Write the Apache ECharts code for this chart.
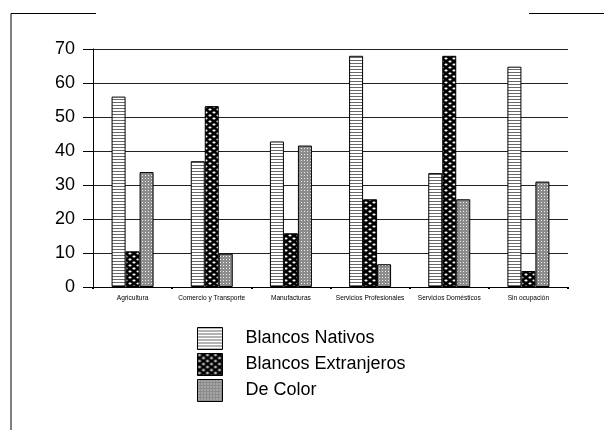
<!DOCTYPE html>
<html>
<head>
<meta charset="utf-8">
<script src="https://cdn.jsdelivr.net/npm/echarts@6/dist/echarts.min.js"></script>
<style>
  html, body { margin: 0; padding: 0; background: #fff; }
  #chart { width: 604px; height: 430px; }
</style>
</head>
<body>
<div id="chart"></div>
<script>
const categories = ['Agricultura', 'Comercio y Transporte', 'Manufacturas', 'Servicios Profesionales', 'Servicios Domésticos', 'Sin ocupación'];
const nativos = [56, 37, 42.8, 68, 33.5, 64.8];
const extranjeros = [10.5, 53.2, 15.8, 25.8, 68, 4.7];
const deColor = [33.8, 9.8, 41.6, 6.7, 25.8, 31];
const yTicks = [0, 10, 20, 30, 40, 50, 60, 70];

// small canvas tiles used as fill patterns
const makeTile = (w, h, draw) => {
  const c = document.createElement('canvas');
  c.width = w;
  c.height = h;
  draw(c.getContext('2d'));
  return c;
};

const stripes = makeTile(3, 3, ctx => {
  ctx.fillStyle = '#fff';
  ctx.fillRect(0, 0, 3, 3);
  ctx.fillStyle = '#6a6a6a';
  ctx.fillRect(0, 0, 3, 1);
});

const lattice = makeTile(8, 6, ctx => {
  ctx.fillStyle = '#000';
  ctx.fillRect(0, 0, 8, 6);
  ctx.fillStyle = '#fff';
  ctx.beginPath();
  ctx.ellipse(2, 1.5, 1.6, 0.9, 0, 0, Math.PI * 2);
  ctx.fill();
  ctx.beginPath();
  ctx.ellipse(6, 4.5, 1.6, 0.9, 0, 0, Math.PI * 2);
  ctx.fill();
});

const dots = makeTile(3, 3, ctx => {
  ctx.fillStyle = '#8c8c8c';
  ctx.fillRect(0, 0, 3, 3);
  ctx.fillStyle = '#ececec';
  ctx.fillRect(1, 1, 1, 1);
});

const barSeries = (name, data, tile) => ({
  name,
  type: 'bar',
  data,
  barWidth: 14,
  barGap: 0,
  itemStyle: {
    color: { image: tile, repeat: 'repeat' },
    borderColor: '#000',
    borderWidth: 1
  },
  emphasis: { disabled: true }
});

const chart = echarts.init(document.getElementById('chart'), null, { renderer: 'canvas' });

chart.setOption({
  animation: false,
  textStyle: { fontFamily: 'Liberation Sans, Arial, sans-serif' },
  grid: { left: 93, right: 36, top: 49, bottom: 143, containLabel: false },
  legend: {
    orient: 'vertical',
    left: 197,
    top: 327,
    padding: 0,
    itemWidth: 25,
    itemHeight: 22,
    itemGap: 3,
    icon: 'rect',
    itemStyle: { borderColor: '#000', borderWidth: 1 },
    textStyle: { fontSize: 18, color: '#000', padding: [0, 0, 0, 18] },
    data: ['Blancos Nativos', 'Blancos Extranjeros', 'De Color']
  },
  xAxis: {
    type: 'category',
    data: categories,
    axisLine: { lineStyle: { color: '#000', width: 1 } },
    axisTick: { show: true, length: 2, lineStyle: { color: '#000', width: 2 } },
    axisLabel: { fontSize: 6.6, color: '#000', margin: 8, interval: 0 },
    splitLine: { show: false }
  },
  yAxis: {
    type: 'value',
    min: yTicks[0],
    max: yTicks[yTicks.length - 1],
    interval: 10,
    axisLine: { show: true, lineStyle: { color: '#000', width: 1 } },
    axisTick: { show: true, length: 10, lineStyle: { color: '#000' } },
    axisLabel: { fontSize: 18, color: '#000', margin: 18 },
    splitLine: { lineStyle: { color: '#222', width: 1 } }
  },
  graphic: [
    { type: 'polyline', shape: { points: [[11, 430], [11, 13.5], [96, 13.5]] }, style: { stroke: '#000', lineWidth: 1, fill: null } },
    { type: 'line', shape: { x1: 529, y1: 13.5, x2: 604, y2: 13.5 }, style: { stroke: '#000', lineWidth: 1 } }
  ],
  series: [
    barSeries('Blancos Nativos', nativos, stripes),
    barSeries('Blancos Extranjeros', extranjeros, lattice),
    barSeries('De Color', deColor, dots)
  ]
});
</script>
</body>
</html>
